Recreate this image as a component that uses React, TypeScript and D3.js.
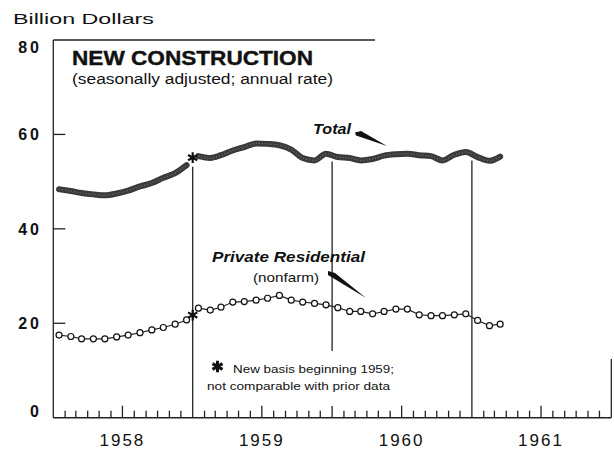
import React from 'react';
import * as d3 from 'd3';

// monthly values, Jan 1958 - Mar 1961 (billion dollars, annual rate)
const totalValues = [
  48.4, 48.0, 47.6, 47.3, 47.1, 47.5, 48.1, 49.0, 49.7, 50.8, 51.8, 53.5, // 1958
  55.4, 55.0, 55.6, 56.6, 57.3, 58.1, 58.0, 57.7, 56.8, 55.0, 54.5, 55.9, // 1959
  55.2, 55.0, 54.5, 54.8, 55.5, 55.8, 55.9, 55.6, 55.4, 54.5, 55.7, 56.3, // 1960
  55.2, 54.4, 55.3, // 1961
];
const residentialValues = [
  17.5, 17.2, 16.7, 16.7, 16.7, 17.1, 17.5, 18.0, 18.6, 19.1, 19.8, 20.7,
  23.2, 22.8, 23.4, 24.5, 24.6, 24.9, 25.3, 25.9, 24.9, 24.5, 24.2, 23.9,
  23.3, 22.5, 22.5, 22.0, 22.5, 23.0, 23.0, 21.8, 21.6, 21.6, 21.8, 22.0,
  20.6, 19.5, 19.8,
];
const newBasisIndex = 12; // new basis beginning 1959
const years = [1958, 1959, 1960, 1961];
const yTicks = [0, 20, 40, 60, 80];

const W = 614;
const H = 450;
const font = '"Liberation Sans", Arial, sans-serif';

export default function App() {
  const x = d3.scaleTime()
    .domain([new Date(1958, 0, 1), new Date(1962, 0, 1)])
    .range([53.3, 611.3]);
  const y = d3.scaleLinear().domain([0, 80]).range([417.7, 40]);

  const mx = (i: number) => x(new Date(1958, i, 16));
  const pts = totalValues.map((t, i) => ({ i, t, r: residentialValues[i] }));
  const segs = [pts.slice(0, newBasisIndex), pts.slice(newBasisIndex)];

  const totalLine = d3.line<any>().x(d => mx(d.i)).y(d => y(d.t)).curve(d3.curveMonotoneX);
  const resLine = d3.line<any>().x(d => mx(d.i)).y(d => y(d.r));

  const base = y(0);
  const left = x(new Date(1958, 0, 1));
  const right = x(new Date(1962, 0, 1));

  // month ticks
  const ticks: { xx: number; tall: boolean }[] = [];
  years.forEach(yr => {
    for (let m = 1; m < 12; m++) ticks.push({ xx: x(new Date(yr, m, 1)), tall: m === 6 });
  });

  // year dividers start just under the total line
  const dividers = [1959, 1960, 1961].map(yr => {
    const k = (yr - 1958) * 12;
    const v = (totalValues[k - 1] + totalValues[k]) / 2;
    return { xx: x(new Date(yr, 0, 1)), top: y(v) + 6 };
  });

  const star = d3.symbol().type(d3.symbolAsterisk).size(80)() as string;
  const starBig = d3.symbol().type(d3.symbolAsterisk).size(95)() as string;
  const bx = x(new Date(1959, 0, 1));
  const starT = (y(totalValues[11]) + y(totalValues[12])) / 2 - 3;
  const starR = (y(residentialValues[11]) + y(residentialValues[12])) / 2 + 1;

  return (
    <svg width={W} height={H} style={{ position: 'absolute', left: 0, top: 0, background: '#fff' }}
      fontFamily={font} fill="#111">
      <text x={13} y={24} fontSize={15} textLength={141} lengthAdjust="spacingAndGlyphs">Billion Dollars</text>

      {/* frame */}
      <line x1={left} x2={left} y1={y(80)} y2={base} stroke="#222" strokeWidth={1.3} />
      <line x1={left} x2={375} y1={y(80)} y2={y(80)} stroke="#222" strokeWidth={1.3} />
      <line x1={left} x2={right} y1={base} y2={base} stroke="#222" strokeWidth={1.5} />
      <line x1={right} x2={right} y1={359} y2={base} stroke="#222" strokeWidth={1.3} />

      {yTicks.map(v => (
        <g key={v}>
          {v > 0 && v < 80 && <line x1={left} x2={left + 12} y1={y(v)} y2={y(v)} stroke="#222" strokeWidth={1.3} />}
          <text x={42} y={Math.min(Math.max(y(v), y(80) + 7), y(0) - 6)} dy="0.36em" textAnchor="end"
            fontSize={16} fontWeight="bold" letterSpacing={3}>{v}</text>
        </g>
      ))}

      {ticks.map((t, i) => (
        <line key={i} x1={t.xx} x2={t.xx} y1={base} y2={base - (t.tall ? 12 : 7)} stroke="#222" strokeWidth={1.3} />
      ))}
      {years.map(yr => (
        <text key={yr} x={x(new Date(yr, 6, 1))} y={446} textAnchor="middle" fontSize={17} letterSpacing={2}>{yr}</text>
      ))}

      {dividers.map((d, i) => d.xx > 300 && d.xx < 400 ? (
        <g key={i}>
          <line x1={d.xx} x2={d.xx} y1={d.top} y2={351} stroke="#222" strokeWidth={1.3} />
          <line x1={d.xx} x2={d.xx} y1={406} y2={base} stroke="#222" strokeWidth={1.3} />
        </g>
      ) : (
        <line key={i} x1={d.xx} x2={d.xx} y1={d.top} y2={base} stroke="#222" strokeWidth={1.3} />
      ))}

      {/* total */}
      {segs.map((s, i) => (
        <path key={i} d={totalLine(s) as string} fill="none" stroke="#3a3a3a" strokeWidth={6} strokeLinecap="round" />
      ))}
      {segs.map((s, i) => (
        <path key={'t' + i} d={totalLine(s) as string} fill="none" stroke="#777" strokeWidth={1.2}
          strokeDasharray="1 2" />
      ))}

      {/* private residential */}
      {segs.map((s, i) => (
        <path key={i} d={resLine(s) as string} fill="none" stroke="#222" strokeWidth={1.2} />
      ))}
      {pts.map(p => (
        <circle key={p.i} cx={mx(p.i)} cy={y(p.r)} r={3} fill="#fff" stroke="#111" strokeWidth={1.2} />
      ))}

      <path d={star} transform={`translate(${bx},${starT})`} stroke="#111" strokeWidth={2.2} />
      <path d={star} transform={`translate(${bx},${starR})`} stroke="#111" strokeWidth={2.2} />

      {/* titles */}
      <text x={72} y={65} fontSize={21} fontWeight="bold" textLength={241} lengthAdjust="spacingAndGlyphs"
        stroke="#111" strokeWidth={0.4}>NEW CONSTRUCTION</text>
      <text x={72} y={84} fontSize={14} textLength={261} lengthAdjust="spacingAndGlyphs">(seasonally adjusted; annual rate)</text>

      <text x={313} y={134} fontSize={15} fontWeight="bold" fontStyle="italic" textLength={38} lengthAdjust="spacingAndGlyphs">Total</text>
      <path d="M355,132.5 L361,131 L387,146 L356,135.5 Z" fill="#111" />

      <text x={212} y={262} fontSize={15} fontWeight="bold" fontStyle="italic" textLength={153} lengthAdjust="spacingAndGlyphs">Private Residential</text>
      <text x={253} y={282} fontSize={13} textLength={66} lengthAdjust="spacingAndGlyphs">(nonfarm)</text>
      <path d="M328,271 L335,273 L366,298 L328,275 Z" fill="#111" />

      {/* footnote */}
      <path d={starBig} transform="translate(217.5,366.5)" stroke="#111" strokeWidth={3} />
      <text x={233} y={373} fontSize={11.5} textLength={161} lengthAdjust="spacingAndGlyphs">New basis beginning 1959;</text>
      <text x={207} y={390} fontSize={11.5} textLength={183} lengthAdjust="spacingAndGlyphs">not comparable with prior data</text>
    </svg>
  );
}
